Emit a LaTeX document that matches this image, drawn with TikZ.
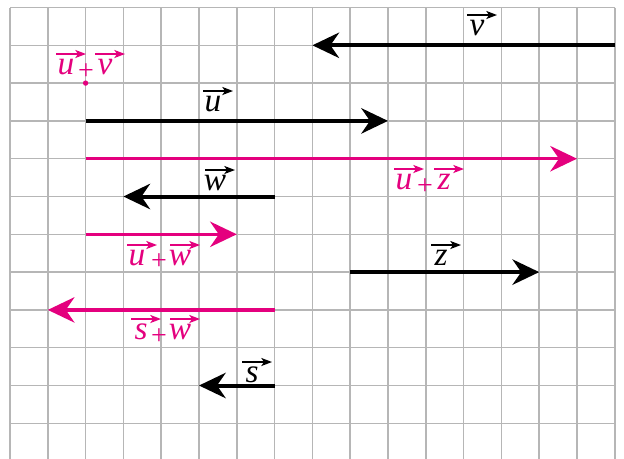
\documentclass[tikz,border=0pt]{standalone}
\usepackage{fontspec}
\setmainfont{Liberation Serif}
\usetikzlibrary{arrows.meta}
\definecolor{mag}{RGB}{228,0,126}
\definecolor{gridgray}{RGB}{182,182,182}
\tikzset{
  gridline/.style={draw=gridgray,line width=1.1pt},
  blackvec/.style={draw=black,line width=3pt,-{Stealth[length=20pt,width=19pt,inset=6.5pt]}},
  magvec/.style={draw=mag,line width=2.6pt,-{Stealth[length=20pt,width=19pt,inset=6.5pt]}},
  lab/.style={inner sep=0pt,font=\fontsize{25}{27}\selectfont\itshape},
  plus/.style={inner sep=0pt,font=\fontsize{21}{23}\selectfont,text=mag},
  overarr/.style={line width=1.3pt,-{Stealth[length=8pt,width=6pt,inset=2pt]}}
}
\newcommand\vlab[4]{%
  \node[lab,text=#4] (#1) at #2 {#3};
  \draw[overarr,draw=#4,fill=#4] ([shift={(-10,-13)}]#1.center) -- ([shift={(20,-13)}]#1.center);
}
\begin{document}
\begin{tikzpicture}[x=0.75pt,y=-0.75pt]
\useasboundingbox (0,0) rectangle (624,458);
\fill[white] (0,0) rectangle (624,458);
\begin{scope}[shift={(10,7.5)},x=28.35pt,y=-28.35pt]
  \foreach \i in {0,...,16} \draw[gridline] (\i,0) -- (\i,11.95);
  \foreach \j in {0,...,11} \draw[gridline] (0,\j) -- (16,\j);
  % vectors
  \coordinate (vS) at (16,1);  \coordinate (vE) at (8,1);
  \coordinate (uS) at (2,3);   \coordinate (uE) at (10,3);
  \coordinate (uzS) at (2,4);  \coordinate (uzE) at (15,4);
  \coordinate (wS) at (7,5);   \coordinate (wE) at (3,5);
  \coordinate (uwS) at (2,6);  \coordinate (uwE) at (6,6);
  \coordinate (zS) at (9,7);   \coordinate (zE) at (14,7);
  \coordinate (swS) at (7,8);  \coordinate (swE) at (1,8);
  \coordinate (sS) at (7,10);  \coordinate (sE) at (5,10);
  \coordinate (uv) at (2,2);
  \draw[blackvec] (vS) -- (vE);
  \draw[blackvec] (uS) -- (uE);
  \draw[magvec] (uzS) -- (uzE);
  \draw[blackvec] (wS) -- (wE);
  \draw[magvec] (uwS) -- (uwE);
  \draw[blackvec] (zS) -- (zE);
  \draw[magvec] (swS) -- (swE);
  \draw[blackvec] (sS) -- (sE);
  \fill[mag] (uv) circle (2pt);
\end{scope}
% black labels
\vlab{lv}{(477,28)}{v}{black}
\vlab{lu}{(213,104)}{u}{black}
\vlab{lw}{(215,183)}{w}{black}
\vlab{lz}{(441,258)}{z}{black}
\vlab{ls}{(252,375)}{s}{black}
% magenta sum labels
\vlab{luv1}{(66,67)}{u}{mag}
\node[plus] (puv) at (86,72) {+};
\vlab{luv2}{(105,67)}{v}{mag}
\vlab{luz1}{(404,182)}{u}{mag}
\node[plus] (puz) at (425,187) {+};
\vlab{luz2}{(444,182)}{z}{mag}
\vlab{luw1}{(137,258)}{u}{mag}
\node[plus] (puw) at (159,262) {+};
\vlab{luw2}{(180,258)}{w}{mag}
\vlab{lsw1}{(141,332)}{s}{mag}
\node[plus] (psw) at (159,337) {+};
\vlab{lsw2}{(180,332)}{w}{mag}
\end{tikzpicture}
\end{document}
